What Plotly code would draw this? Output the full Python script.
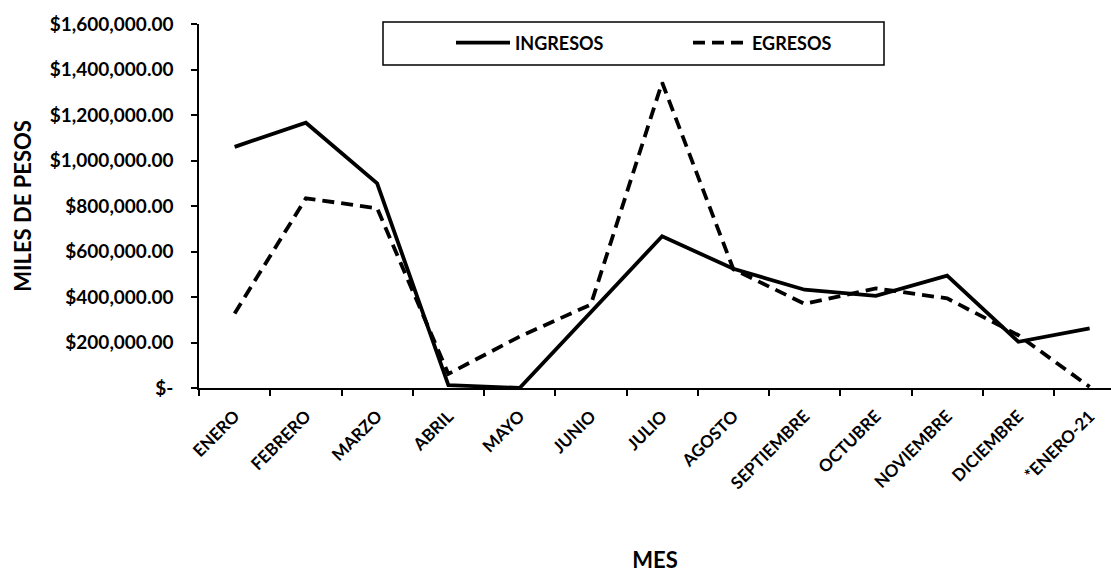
import plotly.graph_objects as go

meses = ["ENERO", "FEBRERO", "MARZO", "ABRIL", "MAYO", "JUNIO", "JULIO",
         "AGOSTO", "SEPTIEMBRE", "OCTUBRE", "NOVIEMBRE", "DICIEMBRE", "*ENERO-21"]
ingresos = [1060000, 1166000, 900000, 13000, 0, 335000, 667000,
            524000, 432000, 405000, 494000, 203000, 262000]
egresos = [328000, 834000, 790000, 62000, 226000, 367000, 1343000,
           522000, 370000, 438000, 394000, 232000, 5000]
y_ticks = [0, 200000, 400000, 600000, 800000, 1000000, 1200000, 1400000, 1600000]
y_ticktext = ["$-", "$200,000.00", "$400,000.00", "$600,000.00", "$800,000.00",
              "$1,000,000.00", "$1,200,000.00", "$1,400,000.00", "$1,600,000.00"]

FONT = "Lato"
fig = go.Figure()
fig.add_trace(go.Scatter(x=meses, y=ingresos, mode="lines", name="INGRESOS",
                         line=dict(color="black", width=3.8)))
fig.add_trace(go.Scatter(x=meses, y=egresos, mode="lines", name="EGRESOS",
                         line=dict(color="black", width=3.8, dash="12px,7px")))

W, H = 1111, 573
L, R, T, B = 199, 0, 24, 185
PW, PH = W - L - R, H - T - B
fig.update_layout(
    width=W, height=H,
    margin=dict(l=L, r=R, t=T, b=B, autoexpand=False),
    paper_bgcolor="white", plot_bgcolor="white",
    font=dict(family=FONT, color="black", size=18, weight="bold"),
    showlegend=True,
    legend=dict(orientation="h", x=(451 - L) / PW, y=(H - B - 43) / PH, yanchor="middle",
                xanchor="left", entrywidth=168, entrywidthmode="pixels",
                bgcolor="rgba(0,0,0,0)", borderwidth=0,
                font=dict(family=FONT, size=18, color="black", weight="bold"),
                itemwidth=54),
    xaxis=dict(
        type="category", range=[-0.5, 12.3], showgrid=False,
        showline=True, linecolor="black", linewidth=1.5,
        ticks="outside", tickson="boundaries", ticklen=6, tickcolor="black", tickwidth=1.5,
        tickangle=-45, tickfont=dict(family=FONT, size=17, color="black", weight="bold"),
        ticklabelstandoff=10,
        title=dict(text="MES", font=dict(family=FONT, size=22, color="black", weight="bold"), standoff=72),
        automargin=False,
    ),
    yaxis=dict(
        range=[0, 1600000], tickvals=y_ticks, ticktext=y_ticktext, showgrid=False,
        showline=True, linecolor="black", linewidth=1.5,
        ticks="outside", ticklen=6, tickcolor="black", tickwidth=1.5,
        tickfont=dict(family=FONT, size=19, color="black", weight="bold"),
        ticklabelstandoff=14,
        title=dict(text="MILES DE PESOS", font=dict(family=FONT, size=22, color="black", weight="bold"), standoff=12),
        automargin=False,
    ),
)
# legend frame
fig.add_shape(type="rect", xref="paper", yref="paper",
              x0=(383 - L) / PW, x1=(884 - L) / PW,
              y0=(H - B - 65) / PH, y1=(H - B - 22) / PH,
              line=dict(color="black", width=1.5), fillcolor="rgba(0,0,0,0)", layer="below")
fig.write_html("out.html", config={"displayModeBar": False},
               post_script="document.body.style.margin='0';")
